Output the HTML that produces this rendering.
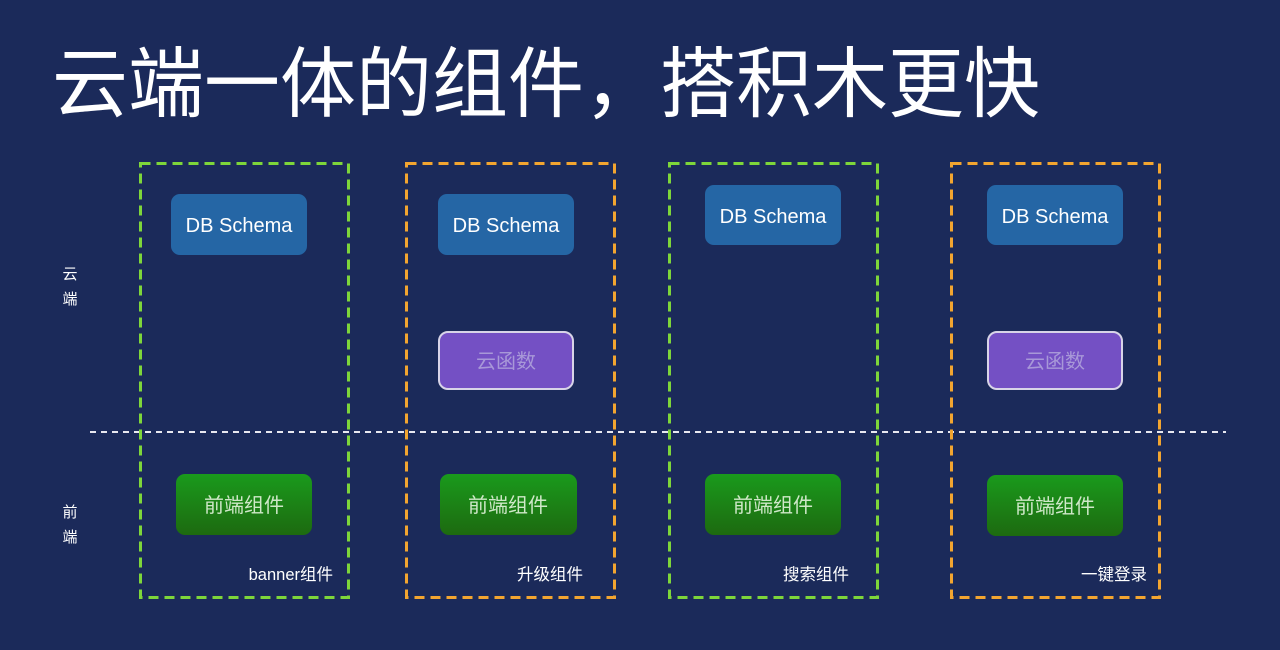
<!DOCTYPE html>
<html><head><meta charset="utf-8"><style>
html,body{margin:0;padding:0;background:#1b2a5a;}
svg{display:block}
text{font-family:"Liberation Sans","Noto Sans CJK SC",sans-serif;}
</style></head><body>
<svg width="1280" height="650" viewBox="0 0 1280 650" xmlns="http://www.w3.org/2000/svg">
<defs>
<linearGradient id="g" x1="0" y1="0" x2="0" y2="1"><stop offset="0" stop-color="#1a9a1c"/><stop offset="1" stop-color="#1d6a10"/></linearGradient>
</defs>
<rect width="1280" height="650" fill="#1b2a5a"/>
<text x="52" y="111" font-size="77" fill="#ffffff" textLength="988" lengthAdjust="spacingAndGlyphs">云端一体的组件，搭积木更快</text>
<g font-size="15" fill="#ffffff" text-anchor="middle">
<text x="70" y="279">云</text><text x="70" y="304">端</text>
<text x="70" y="517">前</text><text x="70" y="542">端</text>
</g>
<line x1="90" y1="432" x2="1226" y2="432" stroke="#e8e8f0" stroke-width="2" stroke-dasharray="6,5"/>
<g fill="none" stroke-width="3" stroke-dasharray="10,6">
<rect x="140.5" y="163.5" width="208" height="434" stroke="#7ed63a"/>
<rect x="406.5" y="163.5" width="208" height="434" stroke="#f2a530"/>
<rect x="669.5" y="163.5" width="208" height="434" stroke="#7ed63a"/>
<rect x="951.5" y="163.5" width="208" height="434" stroke="#f2a530"/>
</g>
<g fill="#2566a5">
<rect x="171" y="194" width="136" height="61" rx="9"/>
<rect x="438" y="194" width="136" height="61" rx="9"/>
<rect x="705" y="185" width="136" height="60" rx="9"/>
<rect x="987" y="185" width="136" height="60" rx="9"/>
</g>
<g font-size="20" fill="#ffffff" text-anchor="middle">
<text x="239" y="232">DB Schema</text>
<text x="506" y="232">DB Schema</text>
<text x="773" y="223">DB Schema</text>
<text x="1055" y="223">DB Schema</text>
</g>
<g fill="#7450c4" stroke="#d8d4e8" stroke-width="2">
<rect x="439" y="332" width="134" height="57" rx="9"/>
<rect x="988" y="332" width="134" height="57" rx="9"/>
</g>
<g font-size="20" fill="#a898d8" text-anchor="middle">
<text x="506" y="368">云函数</text>
<text x="1055" y="368">云函数</text>
</g>
<g fill="url(#g)">
<rect x="176" y="474" width="136" height="61" rx="9"/>
<rect x="440" y="474" width="137" height="61" rx="9"/>
<rect x="705" y="474" width="136" height="61" rx="9"/>
<rect x="987" y="475" width="136" height="61" rx="9"/>
</g>
<g font-size="20" fill="#cfe8c8" text-anchor="middle">
<text x="244" y="512">前端组件</text>
<text x="508" y="512">前端组件</text>
<text x="773" y="512">前端组件</text>
<text x="1055" y="513">前端组件</text>
</g>
<g font-size="16.5" fill="#ffffff" text-anchor="end">
<text x="333" y="580">banner组件</text>
<text x="583" y="580">升级组件</text>
<text x="849" y="580">搜索组件</text>
<text x="1147" y="580">一键登录</text>
</g>
</svg>
</body></html>
